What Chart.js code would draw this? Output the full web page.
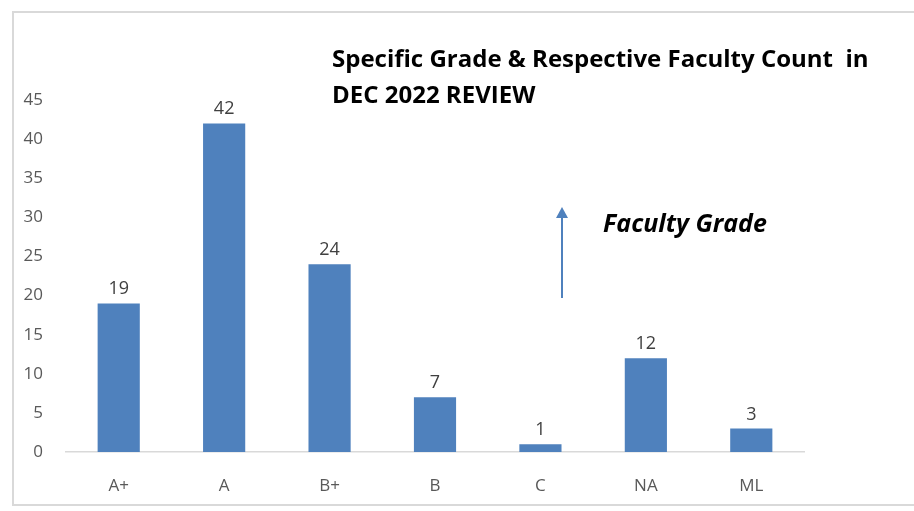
<!DOCTYPE html>
<html>
<head>
<meta charset="utf-8">
<script src="https://cdn.jsdelivr.net/npm/chart.js@4"></script>
<style>
  html, body { margin: 0; padding: 0; background: #fff; }
  #wrap { width: 914px; height: 511px; position: relative; }
</style>
</head>
<body>
<div id="wrap"><canvas id="grade-chart" width="914" height="511"></canvas></div>
<script>
// Chart data
const grades = ['A+', 'A', 'B+', 'B', 'C', 'NA', 'ML'];
const facultyCounts = [19, 42, 24, 7, 1, 12, 3];
const yTicks = [0, 5, 10, 15, 20, 25, 30, 35, 40, 45];

const titleLines = ['Specific Grade & Respective Faculty Count  in', 'DEC 2022 REVIEW'];
const noteText = 'Faculty Grade';

// Frame, value labels, title and arrow note
const decorPlugin = {
    id: 'decor',
    afterDraw(chart) {
        const ctx = chart.ctx;
        ctx.save();

        // Outer frame (no right edge in the reference)
        ctx.strokeStyle = '#d9d9d9';
        ctx.lineWidth = 2;
        ctx.beginPath();
        ctx.moveTo(914, 12);
        ctx.lineTo(13, 12);
        ctx.lineTo(13, 505);
        ctx.lineTo(914, 505);
        ctx.stroke();

        // Value labels above bars
        const meta = chart.getDatasetMeta(0);
        ctx.fillStyle = '#404040';
        ctx.font = '18px "Open Sans", sans-serif';
        ctx.textAlign = 'center';
        ctx.textBaseline = 'alphabetic';
        meta.data.forEach((bar, i) => {
            ctx.fillText(String(facultyCounts[i]), bar.x, bar.y - 9);
        });

        // Title
        ctx.fillStyle = '#000';
        ctx.font = 'bold 24px "Open Sans", sans-serif';
        ctx.textAlign = 'left';
        ctx.fillText(titleLines[0], 332, 67);
        ctx.fillText(titleLines[1], 332, 103);

        // Arrow
        ctx.strokeStyle = '#4f81bd';
        ctx.fillStyle = '#4f81bd';
        ctx.lineWidth = 2;
        ctx.beginPath();
        ctx.moveTo(562, 298);
        ctx.lineTo(562, 215);
        ctx.stroke();
        ctx.beginPath();
        ctx.moveTo(562, 207);
        ctx.lineTo(556, 218);
        ctx.lineTo(568, 218);
        ctx.closePath();
        ctx.fill();

        // Note
        ctx.fillStyle = '#000';
        ctx.font = 'italic bold 25px "Open Sans", sans-serif';
        ctx.fillText(noteText, 603, 232);

        ctx.restore();
    }
};

const ctx = document.getElementById('grade-chart').getContext('2d');
new Chart(ctx, {
    type: 'bar',
    data: {
        labels: grades,
        datasets: [{
            data: facultyCounts,
            backgroundColor: '#4f81bd',
            borderWidth: 0,
            categoryPercentage: 1.0,
            barPercentage: 0.4
        }]
    },
    options: {
        responsive: false,
        animation: false,
        layout: { padding: { top: 100, right: 110, left: 10, bottom: 0 } },
        plugins: {
            legend: { display: false },
            tooltip: { enabled: false }
        },
        scales: {
            x: {
                grid: { display: false, drawTicks: false },
                border: { display: true, color: '#d9d9d9', width: 1.5 },
                ticks: { color: '#595959', font: { family: 'Open Sans', size: 17 }, padding: 24 },
                afterFit: s => { s.height = 59; }
            },
            y: {
                min: 0,
                max: 45,
                grid: { display: false, drawTicks: false },
                border: { display: false },
                afterBuildTicks: s => { s.ticks = yTicks.map(v => ({ value: v })); },
                ticks: { color: '#595959', font: { family: 'Open Sans', size: 17 }, padding: 23 },
                afterFit: s => { s.width = 56; }
            }
        }
    },
    plugins: [decorPlugin]
});
</script>
</body>
</html>
